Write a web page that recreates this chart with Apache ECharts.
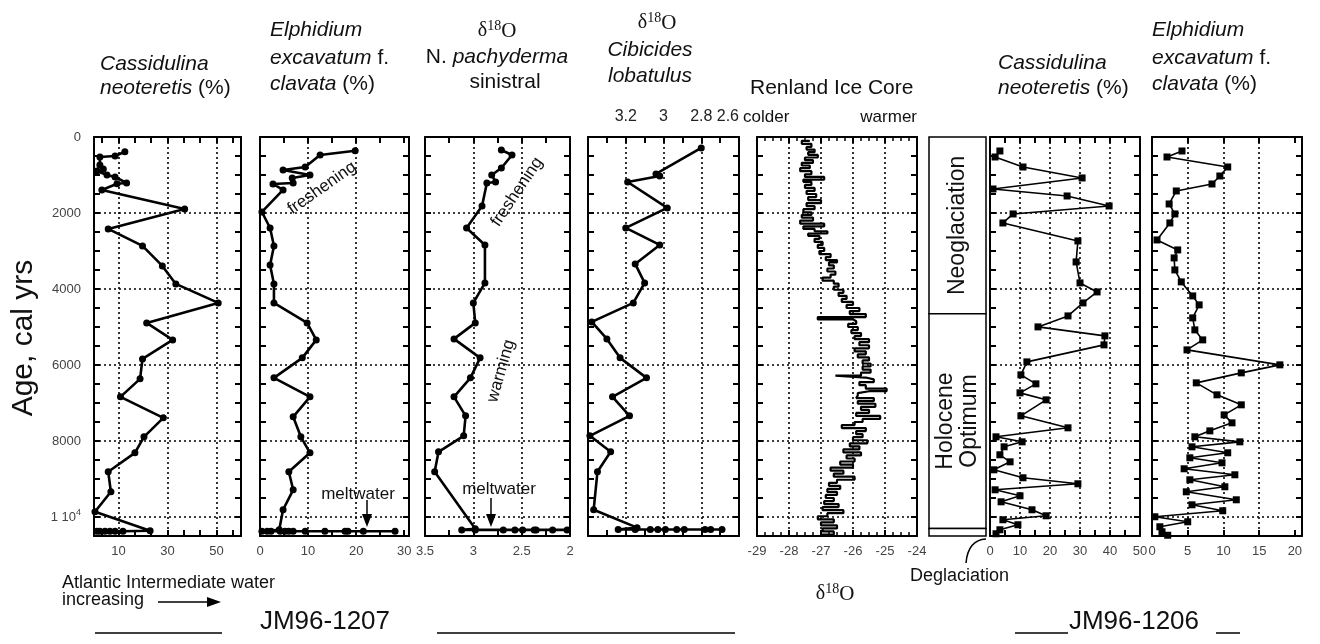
<!DOCTYPE html>
<html><head><meta charset="utf-8">
<script src="https://cdn.jsdelivr.net/npm/echarts@6/dist/echarts.min.js"></script>
<style>html,body{margin:0;padding:0;background:#fff}#c{width:1320px;height:644px}</style>
</head><body><div id="c"></div>
<script>
// ---------------- DATA ----------------
const AGE_MAX = 10500;
const ageTicks = 500;
const ageGrid = [2000, 4000, 6000, 8000, 10000];

// Panel 1: Cassidulina neoteretis (%), JM96-1207
const p1Age = [387,500,526,736,842,894,999,1052,1210,1230,1394,1894,2420,2867,3393,3866,4366,4892,5339,5839,6365,6838,7390,7890,8311,8810,9337,9863,10362,10375,10375,10375,10375,10375,10375];
const p1Val = [12.6,8.6,2.4,2.4,3.8,1.2,5.3,8.6,13.3,9.4,3.2,37,5.8,19.8,27.9,33.4,50.7,21.5,32.1,19.8,18.8,10.8,28.3,20.4,16.7,5.8,6.9,0.4,22.9,11.8,8.6,6.5,4.5,2.4,1.2];
const p1TickVals = [3.33,10,16.67,23.33,30,36.67,43.33,50,56.67];
const p1Labels = [10,30,50];
const p1GridX = [10,30,50];

// Panel 2: Elphidium excavatum f. clavata (%), JM96-1207
const p2Age = [360,473,789,868,999,1078,1210,1236,1394,1973,2394,2867,3366,3866,4366,4892,5339,5812,6338,6838,7364,7890,8311,8810,9284,9810,10336,
  10375,10375,10375,10375,10375,10375,10375,10375,10375,10375,10375,10375,10375];
const p2Val = [19.8,12.5,9.4,4.8,10.4,6.7,6.9,2.7,4.8,0.4,2.1,2.9,2.1,2.9,2.9,9.8,11.7,8.8,2.9,10.4,6.9,8.5,10.4,6.0,6.9,4.8,4.0,
  0.4,1.5,2.3,4.2,5.2,6.0,6.9,9.4,13.5,17.7,18.3,21.5,28.1];
const p2Labels = [0,10,20,30];
const p2GridX = [10,20];

// Panel 3: d18O N. pachyderma sinistral
const p3Age = [342,473,815,999,1184,1210,1815,2394,2840,3840,4366,4892,5313,5812,6338,6838,7338,7864,8285,8810,10310,
  10340,10340,10340,10340,10340,10340,10340,10340,10340];
const p3Val = [2.71,2.60,2.71,2.81,2.77,2.86,2.91,3.07,2.88,2.88,3.0,2.98,3.20,2.93,3.03,3.20,3.08,3.10,3.36,3.40,2.98,
  3.12,2.98,2.69,2.57,2.49,2.37,2.35,2.18,2.03];
const p3Labels = [2,2.5,3,3.5];
const p3GridX = [2.5,3];

// Panel 4: d18O Cibicides lobatulus
const p4Age = [289,973,1026,1184,1867,2393,2840,3340,3840,4366,4866,5313,5812,6338,6838,7338,7864,8285,8810,9810,10280,
  10330,10330,10330,10330,10330,10330,10330,10330,10330,10330];
const p4Val = [2.80,3.04,3.02,3.19,2.98,3.20,3.02,3.15,3.10,3.16,3.38,3.30,3.23,3.09,3.27,3.18,3.39,3.28,3.35,3.37,3.14,
  3.24,3.15,3.07,3.03,2.99,2.93,2.89,2.78,2.75,2.69];
const p4Labels = [2.6,2.8,3,3.2];
const p4GridX = [2.8,3,3.2];

// Panel 5: Renland Ice Core d18O
const p5Age = [100,180,260,330,400,470,540,610,680,750,820,900,980,1050,1120,1180,1260,1340,1420,1500,1580,1660,1740,1820,1900,1980,
  2050,2120,2200,2280,2350,2420,2480,2540,2600,2680,2760,2840,2920,3000,3080,3160,3240,3300,3380,3460,3540,3620,3700,3780,3860,3940,
  4020,4100,4180,4260,4340,4420,4500,4580,4660,4740,4800,4850,4920,5000,5080,5160,5240,5320,5400,5480,5560,5640,5720,5800,5880,5960,
  6040,6120,6200,6280,6330,6380,6450,6530,6620,6690,6740,6800,6870,6950,7020,7100,7180,7260,7340,7420,7500,7580,7660,7740,7820,7900,
  7980,8060,8140,8220,8300,8380,8460,8540,8620,8700,8780,8860,8940,9020,9100,9180,9260,9340,9420,9500,9580,9660,9740,9820,9900,9980,
  10060,10140,10220,10300,10380,10460,10500];
const p5Val = [-27.35,-27.6,-27.3,-27.45,-27.2,-27.4,-27.1,-27.5,-27.25,-27.6,-27.35,-27.65,-27.3,-27.5,-26.9,-27.55,-27.3,-27.5,-27.2,-27.45,-27.15,-27.4,-27.0,-27.45,-27.2,-27.55,
  -27.3,-27.6,-27.25,-27.65,-26.9,-27.55,-27.2,-26.8,-27.4,-27.05,-27.2,-26.95,-27.1,-26.9,-27.05,-26.7,-26.85,-26.5,-26.75,-26.6,-26.8,-26.55,-26.7,-26.95,-26.6,-26.45,
  -26.6,-26.3,-26.45,-26.2,-26.35,-26.0,-26.2,-25.8,-26.1,-25.6,-27.1,-26.0,-25.9,-26.15,-25.85,-26.05,-25.75,-25.95,-25.5,-25.8,-25.5,-25.95,-25.6,-25.85,-25.5,-25.7,
  -25.45,-25.7,-25.45,-25.75,-26.55,-25.6,-25.35,-25.8,-25.6,-24.95,-25.5,-25.85,-25.9,-25.35,-25.85,-25.3,-25.75,-25.5,-25.9,-25.15,-25.7,-25.95,-26.35,-25.6,-25.9,-25.7,
  -26.0,-25.55,-26.1,-25.8,-26.3,-25.75,-26.2,-25.95,-26.4,-26.0,-26.7,-26.3,-26.6,-25.95,-26.5,-26.75,-26.4,-26.8,-26.5,-26.85,-26.6,-26.9,-26.45,-26.95,-26.3,-26.8,
  -27.1,-26.6,-27.0,-26.5,-26.95,-26.6,-27.0];
const p5Labels = [-29,-28,-27,-26,-25,-24];
const p5GridX = [-28,-27,-26,-25];

// Panel 6: climate stages
const p6Names = ['Neoglaciation', 'Holocene\nOptimum', ''];
const p6From = [0, 4650, 10300];
const p6To = [4650, 10300, 10500];

// Panel 7: Cassidulina neoteretis (%), JM96-1206
const p7Age = [368,526,789,1078,1368,1552,1815,2025,2262,2735,3288,3840,4077,4366,4708,4997,5234,5470,5918,6259,6496,6733,6917,7338,7653,7890,8022,8153,8363,8548,8758,8968,9126,9284,9442,9600,9810,9968,10073,10204,10336,10441];
const p7Val = [3.3,1.7,11.0,30.7,1.0,25.7,39.7,7.7,4.3,29.3,28.7,30.0,35.7,31.0,26.0,16.0,38.3,38.0,12.3,10.3,15.3,10.0,18.7,10.3,26.0,2.0,10.7,4.7,3.3,6.7,1.3,11.0,29.3,1.7,10.0,3.7,14.0,18.7,4.3,9.3,3.3,2.0];
const p7Labels = [0,10,20,30,40,50];
const p7GridX = [10,20,30,40];

// Panel 8: Elphidium excavatum f. clavata (%), JM96-1206
const p8Age = [368,526,789,1026,1236,1420,1762,2025,2262,2709,2972,3182,3498,3813,4182,4418,4760,5076,5339,5602,5996,6207,6470,6785,7048,7312,7522,7733,7890,8022,8153,8310,8442,8574,8731,8889,9021,9205,9337,9547,9679,9836,9994,10126,10257,10389,10480];
const p8Val = [4.2,2.1,10.6,9.5,8.4,3.4,2.4,3.2,2.5,0.7,3.6,3.1,3.2,4.1,5.7,6.6,5.7,6.0,7.1,4.9,17.9,12.5,6.2,9.1,12.5,10.1,11.2,8.1,6.0,12.3,5.6,10.6,5.3,9.8,4.5,11.6,5.3,10.2,4.8,11.8,5.6,9.9,0.4,5.0,1.1,1.4,2.2];
const p8Labels = [0,5,10,15,20];
const p8GridX = [5,10,15];

// ---------------- LAYOUT / STYLE ----------------
const F = 'Liberation Sans, Arial, Helvetica, sans-serif';
const SERIF = 'Liberation Serif, Times New Roman, serif';
const TOP = 137, HEIGHT = 399;
const layout = [[94,241],[260,409],[425,570],[588,739],[757,917],[929,986],[990,1140],[1152,1302]];

const xCfg = [
  {min:0, max:60, ticks:p1TickVals, labels:p1Labels, custom:true, grid:p1GridX},
  {min:0, max:31, interval:5, labels:p2Labels, grid:p2GridX},
  {min:2, max:3.5, interval:0.25, inverse:true, labels:p3Labels, grid:p3GridX},
  {min:2.6, max:3.4, interval:0.1, inverse:true, labels:p4Labels, grid:p4GridX, labelsTop:true},
  {min:-29, max:-24, interval:1, labels:p5Labels, grid:p5GridX, minor:4},
  null,
  {min:0, max:50, interval:5, labels:p7Labels, grid:p7GridX},
  {min:0, max:21, interval:5, labels:p8Labels, grid:p8GridX}
];

const zip = (a, v) => a.map((t, i) => [v[i], t]);
const panelData = [zip(p1Age,p1Val), zip(p2Age,p2Val), zip(p3Age,p3Val), zip(p4Age,p4Val), zip(p5Age,p5Val), null, zip(p7Age,p7Val), zip(p8Age,p8Val)];

const grids = [], xAxes = [], yAxes = [], series = [];
const lineCol = '#000';

layout.forEach(([l, r], g) => {
  grids.push({left:l, top:TOP, width:r-l, height:HEIGHT, containLabel:false});
  const c = xCfg[g];
  if (!c) {
    xAxes.push({type:'value', gridIndex:g, min:0, max:1, show:false}, {type:'value', gridIndex:g, min:0, max:1, show:false});
    yAxes.push({type:'value', gridIndex:g, min:0, max:AGE_MAX, inverse:true, show:false}, {type:'value', gridIndex:g, min:0, max:AGE_MAX, inverse:true, show:false});
    return;
  }
  const tick = {show:true, inside:true, length:6, lineStyle:{color:lineCol, width:2}};
  if (c.ticks) tick.customValues = c.ticks;
  const fmt = v => c.labels.some(L => Math.abs(L - v) < 1e-6) ? String(+(+v).toFixed(2)) : '';
  const lab = {show:true, fontFamily:F, fontSize:13, color:'#444', margin:9, formatter:fmt};
  if (c.custom) lab.customValues = c.labels;
  const mk = (pos, showLab, labOpt) => {
    const ax = {
      type:'value', gridIndex:g, position:pos, min:c.min, max:c.max, inverse:!!c.inverse,
      axisLine:{show:true, onZero:false, lineStyle:{color:lineCol, width:2}},
      axisTick:tick, splitLine:{show:false},
      axisLabel: showLab ? labOpt : {show:false}
    };
    if (c.interval != null) ax.interval = c.interval;
    if (c.minor) ax.minorTick = {show:true, splitNumber:c.minor, length:4, lineStyle:{color:lineCol, width:1.5}};
    return ax;
  };
  xAxes.push(mk('bottom', !c.labelsTop, lab));
  xAxes.push(mk('top', !!c.labelsTop, Object.assign({}, lab, {fontSize:16, color:'#222', margin:12, alignMinLabel:'right'})));

  const yfmt = v => v === 0 ? '0' : (v === 10000 ? '{a|1 10}{b|4}' : ((v % 2000 === 0 && v < 10000) ? String(v) : ''));
  const mky = (pos, showLab) => ({
    type:'value', gridIndex:g, position:pos, min:0, max:AGE_MAX, interval:ageTicks, inverse:true,
    axisLine:{show:true, onZero:false, lineStyle:{color:lineCol, width:2}},
    axisTick:{show:true, inside:true, length:6, lineStyle:{color:lineCol, width:2}},
    splitLine:{show:false},
    axisLabel: showLab ? {show:true, fontFamily:F, fontSize:13, color:'#444', margin:13, formatter:yfmt,
      rich:{a:{fontFamily:F, fontSize:13, color:'#444'}, b:{fontFamily:F, fontSize:9, color:'#444', padding:[0,0,9,0]}}} : {show:false}
  });
  yAxes.push(mky('left', g === 0));
  yAxes.push(mky('right', false));

  const isSq = g >= 6;
  const isIce = g === 4;
  series.push({
    type:'line', xAxisIndex:2*g, yAxisIndex:2*g, data:panelData[g],
    step: isIce ? 'end' : false,
    symbol: isIce ? 'none' : (isSq ? 'rect' : 'circle'),
    symbolSize: 7,
    showSymbol: !isIce,
    lineStyle:{color:'#000', width: isIce ? 2.2 : (isSq ? 1.6 : 2.6)},
    itemStyle:{color:'#000', borderWidth:0},
    animation:false, silent:true, z:3,
    markLine:{silent:true, symbol:['none','none'], animation:false, label:{show:false},
      lineStyle:{type:[2,3], color:'#000', width:1.6},
      emphasis:{disabled:true},
      data:[...c.grid.map(v => ({xAxis:v})), ...ageGrid.map(v => ({yAxis:v}))]}
  });
});

// Panel 6 stage boxes
series.push({
  type:'custom', xAxisIndex:10, yAxisIndex:10, animation:false, silent:true,
  data: p6Names.map((n, i) => [0, p6From[i], p6To[i], i]),
  encode:{x:0, y:[1,2]},
  renderItem: (params, api) => {
    const i = api.value(3);
    const a = api.coord([0, api.value(1)]);
    const b = api.coord([1, api.value(2)]);
    const x = Math.min(a[0], b[0]), y = Math.min(a[1], b[1]);
    const w = Math.abs(b[0] - a[0]), h = Math.abs(b[1] - a[1]);
    return {type:'group', children:[
      {type:'rect', shape:{x, y, width:w, height:h}, style:{fill:'#fff', stroke:'#000', lineWidth:1.5}},
      {type:'text', x:x + w/2, y:y + h/2, rotation:Math.PI/2,
        style:{text:p6Names[i], fontFamily:F, fontSize:23, fill:'#111', align:'center', verticalAlign:'middle', lineHeight:24}}
    ]};
  }
});

// ---------------- ANNOTATIONS ----------------
const T = (x, y, text, o = {}) => ({type:'text', x, y, rotation:o.rot || 0, silent:true,
  style:Object.assign({text, fontFamily:F, fontSize:21, fill:'#111', align:o.align || 'left', verticalAlign:'middle'}, o.style || {})});
const it = {fontFamily:F, fontSize:21, fontStyle:'italic', fill:'#111'};
const up = {fontFamily:F, fontSize:21, fill:'#111'};
const dRich = {d:{fontFamily:SERIF, fontSize:20, fill:'#111'}, s:{fontFamily:SERIF, fontSize:14, fill:'#111', padding:[0,0,10,0]}, o:{fontFamily:SERIF, fontSize:21, fill:'#111'}};
const L = (x1, y1, x2, y2, w = 1.5) => ({type:'line', silent:true, shape:{x1, y1, x2, y2}, style:{stroke:'#000', lineWidth:w}});
const P = (pts) => ({type:'polygon', silent:true, shape:{points:pts}, style:{fill:'#000'}});

const graphics = [
  // Panel titles
  T(100, 64, 'Cassidulina', {style:{fontStyle:'italic'}}),
  T(100, 88, '{i|neoteretis} {u|(%)}', {style:{rich:{i:it, u:up}}}),
  T(270, 30, 'Elphidium', {style:{fontStyle:'italic'}}),
  T(270, 58, '{i|excavatum} {u|f.}', {style:{rich:{i:it, u:up}}}),
  T(270, 84, '{i|clavata} {u|(%)}', {style:{rich:{i:it, u:up}}}),
  T(497, 31, '{d|δ}{s|18}{o|O}', {align:'center', style:{rich:dRich}}),
  T(497, 57, '{u|N.} {i|pachyderma}', {align:'center', style:{rich:{i:it, u:up}}}),
  T(505, 82, 'sinistral', {align:'center'}),
  T(657, 23, '{d|δ}{s|18}{o|O}', {align:'center', style:{rich:dRich}}),
  T(650, 50, 'Cibicides', {align:'center', style:{fontStyle:'italic'}}),
  T(650, 76, 'lobatulus', {align:'center', style:{fontStyle:'italic'}}),
  T(750, 88, 'Renland Ice Core'),
  T(998, 63, 'Cassidulina', {style:{fontStyle:'italic'}}),
  T(998, 88, '{i|neoteretis} {u|(%)}', {style:{rich:{i:it, u:up}}}),
  T(1152, 30, 'Elphidium', {style:{fontStyle:'italic'}}),
  T(1152, 58, '{i|excavatum} {u|f.}', {style:{rich:{i:it, u:up}}}),
  T(1152, 84, '{i|clavata} {u|(%)}', {style:{rich:{i:it, u:up}}}),
  // colder / warmer
  T(743, 117, 'colder', {style:{fontSize:17}}),
  T(917, 117, 'warmer', {align:'right', style:{fontSize:17}}),
  // y-axis title
  T(24, 338, 'Age, cal yrs', {align:'center', rot:Math.PI/2, style:{fontSize:30}}),
  // in-plot annotations
  T(322, 188, 'freshening', {align:'center', rot:35 * Math.PI/180, style:{fontSize:17}}),
  T(517, 192, 'freshening', {align:'center', rot:56 * Math.PI/180, style:{fontSize:17}}),
  T(501, 371, 'warming', {align:'center', rot:74 * Math.PI/180, style:{fontSize:17}}),
  T(358, 494, 'meltwater', {align:'center', style:{fontSize:17}}),
  L(367, 500, 367, 518, 1.5), P([[362,514],[367,527],[372,514]]),
  T(499, 489, 'meltwater', {align:'center', style:{fontSize:17}}),
  L(491, 498, 491, 518, 1.5), P([[486,514],[491,527],[496,514]]),
  // bottom texts
  T(62, 583, 'Atlantic Intermediate water', {style:{fontSize:18}}),
  T(62, 600, 'increasing', {style:{fontSize:18}}),
  L(158, 602, 210, 602, 1.5), P([[207,597],[221,602],[207,607]]),
  T(325, 622, 'JM96-1207', {align:'center', style:{fontSize:26}}),
  L(95, 633, 222, 633), L(437, 633, 735, 633),
  T(835, 594, '{d|δ}{s|18}{o|O}', {align:'center', style:{rich:dRich}}),
  T(910, 576, 'Deglaciation', {style:{fontSize:18}}),
  {type:'bezierCurve', silent:true, shape:{x1:986, y1:539, cpx1:968, cpy1:540, x2:966, y2:563}, style:{stroke:'#000', lineWidth:1.5, fill:'none'}},
  T(1134, 622, 'JM96-1206', {align:'center', style:{fontSize:26}}),
  L(1015, 633, 1068, 633), L(1216, 633, 1240, 633)
];

const chart = echarts.init(document.getElementById('c'), null, {renderer:'canvas'});
chart.setOption({
  animation:false,
  backgroundColor:'#fff',
  grid:grids, xAxis:xAxes, yAxis:yAxes, series,
  graphic:graphics
});
</script></body></html>
